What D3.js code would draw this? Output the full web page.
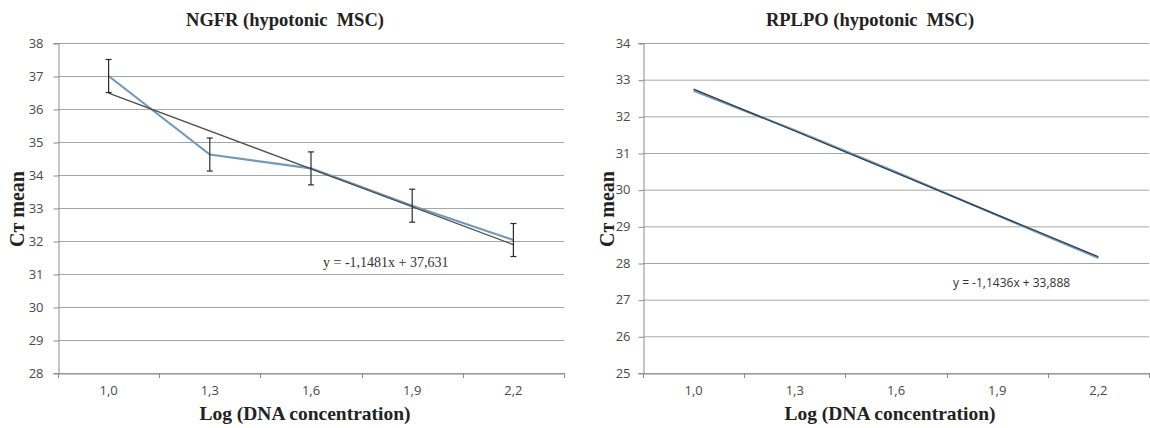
<!DOCTYPE html>
<html>
<head>
<meta charset="utf-8">
<script src="https://cdn.jsdelivr.net/npm/d3@7"></script>
<style>
  body { margin: 0; background: #fff; }
  svg { display: block; }
</style>
</head>
<body>
<svg id="chart" width="1150" height="428"></svg>
<script>
// data
var categories = ["1,0", "1,3", "1,6", "1,9", "2,2"];

var ngfrMean = [37.0, 34.62, 34.2, 33.07, 32.03];
var ngfrErr = [0.5, 0.5, 0.5, 0.5, 0.5];
var ngfrTrend = [-1.1481, 37.631]; // slope, intercept (x = 1..5)

var rplpoMean = [32.70, 31.62, 30.48, 29.30, 28.14];
var rplpoTrend = [-1.1436, 33.888];

var svg = d3.select("#chart");

function drawPanel(opt) {
    var x = d3.scaleBand()
        .domain(categories)
        .range([opt.left, opt.right])
        .padding(0);
    var y = d3.scaleLinear()
        .domain(opt.yDomain)
        .range([373, 43]);

    var g = svg.append("g");

    // gridlines
    var yTicks = d3.range(opt.yDomain[0], opt.yDomain[1] + 1);
    g.selectAll(".grid")
        .data(yTicks)
        .enter().append("line")
        .attr("x1", opt.left).attr("x2", opt.right)
        .attr("y1", d => y(d) + 0.5).attr("y2", d => y(d) + 0.5)
        .attr("stroke", "#a6a6a6")
        .attr("stroke-width", 1);

    // y axis
    var yAxis = g.append("g")
        .attr("transform", `translate(${opt.left + 0.5},0)`)
        .call(d3.axisLeft(y).tickValues(yTicks).tickSize(5).tickPadding(opt.tickPad).tickFormat(d3.format("d")));
    yAxis.select(".domain").attr("stroke", "#8c8c8c");
    yAxis.selectAll(".tick line").attr("stroke", "#8c8c8c").attr("transform", "translate(0,0.5)");
    yAxis.selectAll("text")
        .attr("font-family", "'Open Sans', sans-serif")
        .attr("font-size", 13)
        .attr("fill", "#4a4a4a");

    // x axis: labels at band centres, tick marks at band edges
    var xAxis = g.append("g")
        .attr("transform", `translate(0,${373.5})`)
        .call(d3.axisBottom(x).tickSize(0).tickPadding(12));
    xAxis.select(".domain").attr("stroke", "#8c8c8c");
    xAxis.selectAll("text")
        .attr("font-family", "'Open Sans', sans-serif")
        .attr("font-size", 13)
        .attr("fill", "#4a4a4a");
    var edges = categories.map(c => x(c)).concat([x(categories[categories.length - 1]) + x.bandwidth()]);
    g.selectAll(".xtick")
        .data(edges)
        .enter().append("line")
        .attr("x1", d => Math.round(d) + 0.5).attr("x2", d => Math.round(d) + 0.5)
        .attr("y1", 373).attr("y2", 378)
        .attr("stroke", "#8c8c8c");

    var cx = (d, i) => x(categories[i]) + x.bandwidth() / 2;

    // data line
    var line = d3.line()
        .x((d, i) => cx(d, i))
        .y(d => y(d));
    g.append("path")
        .datum(opt.mean)
        .attr("d", line)
        .attr("fill", "none")
        .attr("stroke", "#7399b9")
        .attr("stroke-width", 2.2);

    // trendline
    var tr = opt.trend;
    var trendVals = [1, categories.length].map(k => ({ i: k - 1, v: tr[0] * k + tr[1] }));
    g.append("path")
        .datum(trendVals)
        .attr("d", d3.line().x(d => cx(null, d.i)).y(d => y(d.v)))
        .attr("fill", "none")
        .attr("stroke", opt.trendColor)
        .attr("stroke-width", opt.trendWidth);

    // error bars
    if (opt.err) {
        var eb = g.selectAll(".err")
            .data(opt.mean)
            .enter().append("g")
            .attr("stroke", "#2b2b2b")
            .attr("stroke-width", 1.2);
        eb.append("line")
            .attr("x1", cx).attr("x2", cx)
            .attr("y1", (d, i) => y(d + opt.err[i]))
            .attr("y2", (d, i) => y(d - opt.err[i]));
        eb.append("line")
            .attr("x1", (d, i) => cx(d, i) - 3).attr("x2", (d, i) => cx(d, i) + 3)
            .attr("y1", (d, i) => y(d + opt.err[i])).attr("y2", (d, i) => y(d + opt.err[i]));
        eb.append("line")
            .attr("x1", (d, i) => cx(d, i) - 3).attr("x2", (d, i) => cx(d, i) + 3)
            .attr("y1", (d, i) => y(d - opt.err[i])).attr("y2", (d, i) => y(d - opt.err[i]));
    }

    // equation label
    g.append("text")
        .attr("x", opt.eqX).attr("y", opt.eqY)
        .attr("font-family", opt.eqFont)
        .attr("font-size", opt.eqSize)
        .attr("fill", "#333")
        .text(opt.equation);

    // title
    g.append("text")
        .attr("x", (opt.left + opt.right) / 2 - 26).attr("y", 26)
        .attr("text-anchor", "middle")
        .attr("font-family", "'Liberation Serif', serif")
        .attr("font-weight", "bold")
        .attr("font-size", 18.5)
        .attr("fill", "#222")
        .style("white-space", "pre")
        .text(opt.title);

    // axis titles
    g.append("text")
        .attr("x", (opt.left + opt.right) / 2 - 6).attr("y", 420)
        .attr("text-anchor", "middle")
        .attr("font-family", "'Liberation Serif', serif")
        .attr("font-weight", "bold")
        .attr("font-size", 19.5)
        .attr("fill", "#222")
        .text("Log (DNA concentration)");

    g.append("text")
        .attr("transform", `translate(${opt.labelX},${209}) rotate(-90)`)
        .attr("dy", "0.35em")
        .attr("text-anchor", "middle")
        .attr("font-family", "'Liberation Serif', serif")
        .attr("font-weight", "bold")
        .attr("font-size", 20)
        .attr("fill", "#222")
        .text("Cт mean");
}

drawPanel({
    left: 58, right: 564,
    yDomain: [28, 38],
    mean: ngfrMean, err: ngfrErr, trend: ngfrTrend,
    trendColor: "#4d4d4d", trendWidth: 1.3,
    tickPad: 10, labelX: 17,
    title: "NGFR (hypotonic  MSC)",
    equation: "y = -1,1481x + 37,631",
    eqX: 323, eqY: 267, eqFont: "'Liberation Serif', serif", eqSize: 14
});

drawPanel({
    left: 643, right: 1149,
    yDomain: [25, 34],
    mean: rplpoMean, err: null, trend: rplpoTrend,
    trendColor: "#2f3f4f", trendWidth: 1.3,
    tickPad: 8, labelX: 607,
    title: "RPLPO (hypotonic  MSC)",
    equation: "y = -1,1436x + 33,888",
    eqX: 953, eqY: 287, eqFont: "'Open Sans', sans-serif", eqSize: 12
});
</script>
</body>
</html>
